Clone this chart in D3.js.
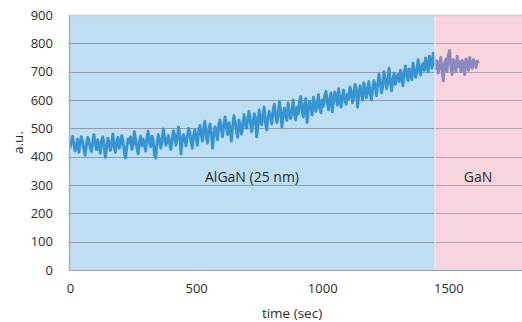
<!DOCTYPE html>
<html>
<head>
<meta charset="utf-8">
<script src="https://cdn.jsdelivr.net/npm/d3@7"></script>
<style>
  body { margin: 0; background: #fff; }
  text { font-family: "Open Sans", sans-serif; fill: #2b2b2b; }
</style>
</head>
<body>
<svg id="chart" width="522" height="322"></svg>
<script>
// signal, one sample every 5 sec starting at t = 0
const sampleStep = 5;
const signal = [
  430, 455, 472, 445, 420, 438, 462, 415, 448, 470, 452, 425, 405, 440, 468, 458, 432, 418, 450, 478,
  446, 425, 460, 438, 412, 455, 470, 440, 398, 428, 465, 450, 422, 445, 480, 436, 415, 452, 468, 430,
  442, 475, 455, 418, 395, 430, 462, 448, 470, 425, 440, 488, 460, 432, 410, 455, 472, 438, 462, 445,
  420, 468, 490, 450, 435, 472, 458, 405, 395, 445, 478, 462, 430, 455, 498, 470, 440, 452, 475, 448,
  425, 460, 492, 475, 440, 465, 505, 480, 410, 455, 478, 462, 438, 470, 500, 488, 452, 430, 475, 495,
  468, 440, 490, 510, 478, 455, 502, 525, 470, 448, 495, 515, 485, 430, 472, 505, 490, 460, 512, 530,
  495, 470, 515, 540, 505, 478, 520, 498, 455, 510, 545, 522, 490, 468, 530, 515, 480, 505, 548, 520,
  500, 535, 560, 525, 488, 515, 552, 540, 470, 505, 565, 530, 512, 548, 575, 520, 495, 538, 560, 540,
  515, 560, 585, 548, 520, 545, 595, 565, 505, 540, 572, 550, 528, 590, 560, 535, 560, 600, 548, 530,
  575, 550, 598, 612, 560, 540, 585, 605, 520, 565, 595, 575, 548, 610, 590, 560, 582, 620, 572, 555,
  600, 578, 615, 630, 590, 565, 605, 625, 558, 595, 628, 610, 582, 640, 600, 575, 612, 635, 598, 585,
  620, 605, 645, 630, 590, 612, 655, 638, 575, 618, 650, 628, 600, 660, 635, 608, 642, 665, 618, 600,
  640, 668, 650, 615, 655, 690, 662, 625, 648, 700, 675, 640, 660, 712, 668, 632, 670, 695, 655, 680,
  690, 665, 705, 680, 650, 698, 720, 685, 668, 710, 695, 672, 730, 705, 680, 700, 742, 712, 688, 720,
  730, 705, 748, 725, 700, 755, 735, 712, 765, 740,
  710, 738, 695, 722, 750, 705, 668, 730, 745, 700, 760, 775, 720, 690, 742, 725, 700, 755, 718, 735,
  700, 740, 725, 690, 745, 730, 705, 750, 720, 712, 742, 728, 715, 738, 730
];
const times = d3.range(signal.length).map(i => i * sampleStep);

// layer regions (sec)
const regions = [
  { name: 'AlGaN (25 nm)', start: 0, end: 1447 },
  { name: 'GaN', start: 1447, end: 1800 }
];
const yTicks = [0, 100, 200, 300, 400, 500, 600, 700, 800, 900];
const xTicks = [0, 500, 1000, 1500];

const plot = { left: 70, right: 524, top: 15, bottom: 270 };
const svg = d3.select('#chart');

const x = d3.scaleLinear().domain([0, 1800]).range([plot.left, plot.right]);
const y = d3.scaleLinear().domain([0, 900]).range([plot.bottom, plot.top]);

const fills = ['#bddef3', '#f8d4dd'];
const gridCols = ['#8e9cab', '#b8a6ae'];
const lineCols = ['#3694d3', '#8b88c0'];

// background bands
svg.selectAll('rect.band')
  .data(regions)
  .enter()
  .append('rect')
  .attr('class', 'band')
  .attr('x', d => x(d.start))
  .attr('y', plot.top)
  .attr('width', d => x(d.end) - x(d.start))
  .attr('height', plot.bottom - plot.top)
  .attr('fill', (d, i) => fills[i]);

// gridlines, tinted per band
regions.forEach((r, i) => {
  svg.append('g')
    .selectAll('line')
    .data(yTicks.slice(1, -1))
    .enter()
    .append('line')
    .attr('x1', x(r.start))
    .attr('x2', x(r.end))
    .attr('y1', d => Math.round(y(d)) + 0.5)
    .attr('y2', d => Math.round(y(d)) + 0.5)
    .attr('stroke', gridCols[i])
    .attr('stroke-width', 1.2);
});

// clip paths so the line can change colour across bands
const defs = svg.append('defs');
regions.forEach((r, i) => {
  defs.append('clipPath').attr('id', 'clip' + i)
    .append('rect')
    .attr('x', x(r.start))
    .attr('y', 0)
    .attr('width', x(r.end) - x(r.start))
    .attr('height', 322);
});

const line = d3.line()
  .x((d, i) => x(times[i]))
  .y(d => y(d));

regions.forEach((r, i) => {
  svg.append('path')
    .datum(signal)
    .attr('clip-path', 'url(#clip' + i + ')')
    .attr('fill', 'none')
    .attr('stroke', lineCols[i])
    .attr('stroke-width', 2.9)
    .attr('stroke-linejoin', 'round')
    .attr('d', line);
});

// thin light divider between bands
svg.append('line')
  .attr('x1', x(regions[1].start)).attr('x2', x(regions[1].start))
  .attr('y1', plot.top).attr('y2', plot.bottom)
  .attr('stroke', '#eef1f6').attr('stroke-width', 1);

// frame
svg.append('line').attr('x1', plot.left).attr('x2', 522).attr('y1', plot.top + 0.5).attr('y2', plot.top + 0.5)
  .attr('stroke', '#cfcfcf').attr('stroke-width', 1.5);
svg.append('line').attr('x1', plot.left).attr('x2', 522).attr('y1', plot.bottom + 0.5).attr('y2', plot.bottom + 0.5)
  .attr('stroke', '#8e9cab').attr('stroke-width', 1.2);
svg.append('line').attr('x1', plot.left - 0.5).attr('x2', plot.left - 0.5).attr('y1', plot.top).attr('y2', plot.bottom + 1)
  .attr('stroke', '#a9b0b8').attr('stroke-width', 1.5);

// axes labels
const yAxis = d3.axisLeft(y).tickValues(yTicks).tickSize(0).tickPadding(17).tickFormat(d3.format('d'));
svg.append('g')
  .attr('transform', `translate(${plot.left},0)`)
  .call(yAxis)
  .call(g => g.select('.domain').remove())
  .selectAll('text')
  .style('font-size', '13px')
  .style('font-family', '"Open Sans", sans-serif')
  .attr('fill', '#2b2b2b');

const xAxis = d3.axisBottom(x).tickValues(xTicks).tickSize(0).tickPadding(14).tickFormat(d3.format('d'));
svg.append('g')
  .attr('transform', `translate(0,${plot.bottom})`)
  .call(xAxis)
  .call(g => g.select('.domain').remove())
  .selectAll('text')
  .style('font-size', '13px')
  .style('font-family', '"Open Sans", sans-serif')
  .attr('fill', '#2b2b2b');

svg.append('text')
  .attr('x', 292).attr('y', 318)
  .attr('text-anchor', 'middle')
  .style('font-size', '13.5px')
  .text('time (sec)');

svg.append('text')
  .attr('transform', `translate(23,${(plot.top + plot.bottom) / 2}) rotate(-90)`)
  .attr('text-anchor', 'middle')
  .style('font-size', '13.5px')
  .text('a.u.');

// band names
const bandLabelX = [252, 478];
svg.selectAll('text.band-label')
  .data(regions)
  .enter()
  .append('text')
  .attr('class', 'band-label')
  .attr('x', (d, i) => bandLabelX[i])
  .attr('y', 182)
  .attr('text-anchor', 'middle')
  .style('font-size', '14px')
  .text(d => d.name);
</script>
</body>
</html>
